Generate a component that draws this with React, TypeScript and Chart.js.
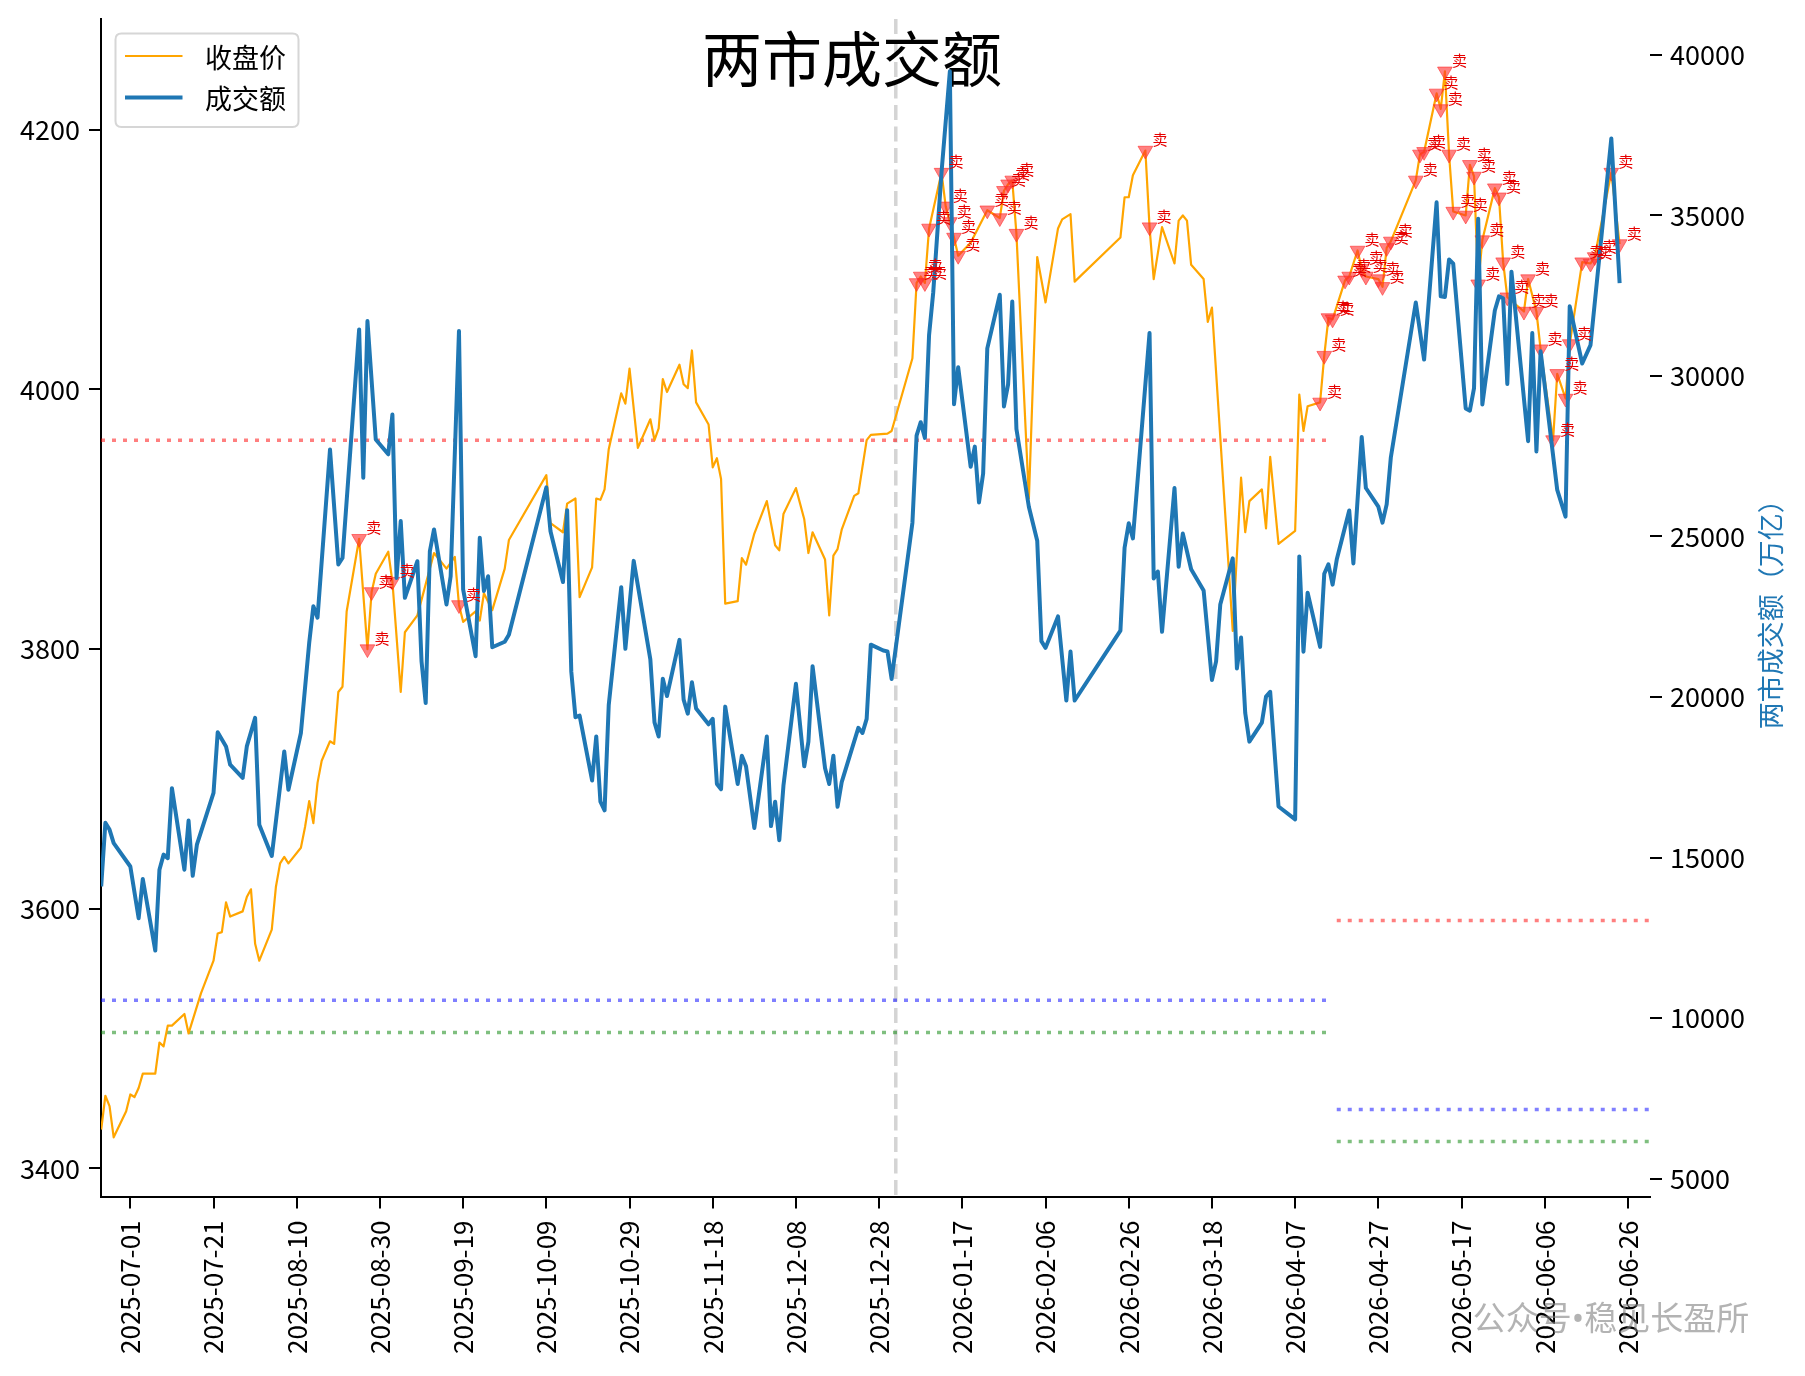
import React, { useEffect, useRef } from 'react';
import { Chart, registerables } from 'chart.js';

Chart.register(...registerables);

// ---------- data ----------
// x values are calendar-day offsets from BASE_DATE (2025-07-01)
const BASE_DATE = Date.UTC(2025, 6, 1);
const xTickDays = [0, 20, 40, 60, 80, 100, 120, 140, 160, 180, 200, 220, 240, 260, 280, 300, 320, 340, 360];
const leftTicks = [3400, 3600, 3800, 4000, 4200];
const rightTicks = [5000, 10000, 15000, 20000, 25000, 30000, 35000, 40000];

const priceDays = [
  -7, -6, -5, -4, -1, 0, 1, 2, 3, 6,
  7, 8, 9, 10, 13, 14, 17, 20, 21, 22,
  23, 24, 27, 28, 29, 30, 31, 34, 35, 36,
  37, 38, 41, 42, 43, 44, 45, 46, 48, 49,
  50, 51, 52, 55, 57, 58, 59, 62, 63, 65,
  66, 69, 73, 75, 76, 78, 79, 80, 83, 84,
  85, 87, 90, 91, 100, 101, 104, 105, 107, 108,
  111, 112, 113, 114, 115, 118, 119, 120, 122, 125,
  126, 127, 128, 129, 132, 133, 134, 135, 136, 139,
  140, 141, 142, 143, 146, 147, 148, 150, 153, 155,
  156, 157, 160, 162, 163, 164, 167, 168, 169, 170,
  171, 174, 175, 177, 178, 182, 183, 188, 189, 190,
  191, 192, 195, 196, 197, 198, 199, 202, 206, 209,
  210, 211, 212, 213, 216, 218, 220, 223, 224, 226,
  227, 238, 239, 240, 241, 244, 245, 246, 248, 251,
  252, 253, 254, 255, 258, 259, 260, 265, 267, 268,
  269, 272, 273, 274, 276, 280, 281, 282, 283, 286,
  287, 288, 289, 292, 293, 295, 296, 297, 300, 301,
  302, 303, 309, 310, 311, 314, 315, 316, 317, 318,
  321, 322, 323, 324, 325, 328, 329, 330, 331, 335,
  336, 338, 339, 342, 343, 345, 346, 349, 351, 352,
  356, 358,
];
const closePrices = [
  3430, 3456, 3448, 3424, 3444, 3457, 3455, 3462, 3473, 3473,
  3497, 3494, 3510, 3510, 3519, 3504, 3535, 3560, 3581, 3582,
  3605, 3594, 3598, 3609, 3615, 3573, 3560, 3584, 3617, 3635,
  3640, 3635, 3647, 3663, 3683, 3666, 3697, 3714, 3729, 3727,
  3767, 3771, 3829, 3885, 3800, 3844, 3858, 3875, 3852, 3767,
  3813, 3826, 3874, 3866, 3862, 3871, 3834, 3821, 3829, 3822,
  3843, 3830, 3862, 3884, 3934, 3897, 3890, 3912, 3916, 3840,
  3863, 3916, 3915, 3923, 3954, 3997, 3989, 4016, 3955, 3977,
  3961, 3970, 4008, 3998, 4019, 4004, 4001, 4030, 3990, 3973,
  3940, 3947, 3931, 3835, 3837, 3870, 3865, 3889, 3914, 3880,
  3876, 3904, 3924, 3900, 3874, 3890, 3869, 3826, 3872, 3877,
  3892, 3918, 3920, 3961, 3965, 3966, 3968, 4024, 4082, 4087,
  4082, 4124, 4167, 4141, 4129, 4117, 4103, 4113, 4138, 4132,
  4153, 4158, 4161, 4120, 3916, 4102, 4067, 4124, 4131, 4135,
  4083, 4117, 4148, 4148, 4165, 4184, 4125, 4085, 4125, 4097,
  4130, 4134, 4130, 4096, 4085, 4052, 4063, 3814, 3932, 3890,
  3914, 3923, 3893, 3948, 3881, 3891, 3996, 3968, 3987, 3990,
  4026, 4055, 4054, 4084, 4087, 4107, 4093, 4087, 4085, 4079,
  4109, 4114, 4161, 4181, 4183, 4228, 4216, 4245, 4181, 4137,
  4134, 4173, 4164, 4081, 4115, 4155, 4148, 4098, 4071, 4060,
  4085, 4060, 4031, 3961, 4012, 3993, 4035, 4098, 4097, 4102,
  4167, 4112,
];

const volumeDays = [
  -7, -6, -5, -4, 0, 2, 3, 6, 7, 8,
  9, 10, 13, 14, 15, 16, 20, 21, 23, 24,
  27, 28, 30, 31, 34, 37, 38, 41, 43, 44,
  45, 48, 50, 51, 55, 56, 57, 59, 62, 63,
  64, 65, 66, 69, 70, 71, 72, 73, 76, 77,
  79, 80, 83, 84, 85, 86, 87, 90, 91, 100,
  101, 104, 105, 106, 107, 108, 111, 112, 113, 114,
  115, 118, 119, 121, 125, 126, 127, 128, 129, 132,
  133, 134, 135, 136, 139, 140, 141, 142, 143, 146,
  147, 148, 150, 153, 154, 155, 156, 157, 160, 162,
  163, 164, 167, 168, 169, 170, 171, 175, 176, 177,
  178, 181, 182, 183, 188, 189, 190, 191, 192, 193,
  195, 197, 198, 199, 202, 203, 204, 205, 206, 209,
  210, 211, 212, 213, 216, 218, 219, 220, 223, 225,
  226, 227, 238, 239, 240, 241, 245, 246, 247, 248,
  251, 252, 253, 255, 258, 260, 261, 262, 265, 266,
  267, 268, 269, 272, 273, 274, 276, 280, 281, 282,
  283, 286, 287, 288, 289, 290, 293, 294, 296, 297,
  300, 301, 302, 303, 309, 311, 314, 315, 316, 317,
  318, 321, 322, 323, 324, 325, 328, 329, 330, 331,
  332, 336, 337, 338, 339, 343, 345, 346, 349, 351,
  356, 358,
];
const volumes = [
  14100, 16080, 15870, 15450, 14720, 13110, 14330, 12100, 14620, 15090,
  14980, 17160, 14620, 16150, 14430, 15400, 17010, 18900, 18460, 17890,
  17480, 18460, 19350, 16020, 15050, 18300, 17110, 18880, 21690, 22830,
  22470, 27710, 24130, 24330, 31450, 26830, 31710, 28020, 27560, 28800,
  23710, 25480, 23090, 24230, 21110, 19810, 24540, 25220, 22880, 23760,
  31400, 23350, 21270, 24960, 23300, 23760, 21550, 21720, 21940, 26530,
  25160, 23580, 25820, 20790, 19370, 19420, 17400, 18770, 16740, 16470,
  19750, 23420, 21500, 24240, 21170, 19210, 18770, 20570, 20030, 21780,
  19920, 19480, 20460, 19640, 19150, 19320, 17290, 17130, 19700, 17290,
  18170, 17840, 15920, 18770, 15980, 16740, 15540, 17240, 20410, 17840,
  18610, 20960, 17780, 17290, 18170, 16580, 17350, 19040, 18880, 19320,
  21630, 21450, 21420, 20560, 25430, 28140, 28560, 28070, 31270, 32600,
  36350, 39490, 29120, 30270, 27170, 27800, 26060, 26960, 30860, 32530,
  29050, 29740, 32320, 28350, 25920, 24870, 21740, 21530, 22510, 19890,
  21420, 19890, 22070, 24650, 25410, 24940, 31340, 23690, 23910, 22030,
  26510, 24060, 25090, 23980, 23320, 20530, 21110, 22880, 24320, 20890,
  21850, 19500, 18610, 19200, 20010, 20160, 16590, 16190, 24380, 21410,
  23250, 21560, 23840, 24130, 23500, 24280, 25810, 24160, 28100, 26510,
  25930, 25430, 26000, 27460, 32290, 30510, 35410, 32480, 32460, 33630,
  33500, 28990, 28920, 29620, 34900, 29110, 32040, 32480, 32420, 29750,
  33250, 27970, 31340, 27650, 30770, 26450, 25620, 32170, 30390, 30960,
  37400, 32890,
];

// days with a sell signal (marked on the close price line)
const sellDays = [
  55, 57, 58, 63, 79,
  189, 190, 191, 192, 195, 196, 197, 198, 199, 206, 209, 210, 211, 212, 213,
  244, 245,
  286, 287, 288, 289, 292, 293, 295, 296, 297, 300, 301, 302, 303,
  309, 310, 311, 314, 315, 316, 317, 318, 321, 322, 323, 324, 325,
  328, 329, 330, 331, 335, 336, 338, 339, 342, 343, 345, 346, 349, 351, 352, 356, 358,
];

// volume threshold lines (red / blue / green) for two periods
const period1Range = [-7.05, 288.5];
const period1Levels = [28000, 10550, 9550];
const period2Range = [290, 365.3];
const period2Levels = [13040, 7150, 6150];
const levelColors = ['rgba(255,0,0,0.5)', 'rgba(0,0,255,0.5)', 'rgba(0,128,0,0.5)'];

const newYearDay = 184; // 2026-01-01 divider
const titleText = '两市成交额';
const priceLabel = '收盘价';
const volumeLabel = '成交额';
const rightAxisTitle = '两市成交额（万亿）';
const sellText = '卖';
const watermarkText = '公众号•稳见长盈所';

// ---------- helpers ----------
const FONT = "'Noto Sans CJK SC', 'Noto Sans', sans-serif";
const fmtDate = (d: number) => new Date(BASE_DATE + d * 86400000).toISOString().slice(0, 10);
const noPad = (s: any) => { s.paddingTop = 0; s.paddingBottom = 0; s.paddingLeft = 0; s.paddingRight = 0; };

const overlayPlugin = {
  id: 'overlay',
  beforeDatasetsDraw(chart: any) {
    const { ctx, chartArea, scales } = chart;
    const x = scales.x.getPixelForValue(newYearDay);
    ctx.save();
    ctx.strokeStyle = 'rgba(170,170,170,0.5)';
    ctx.lineWidth = 3.5;
    ctx.setLineDash([15, 6.5]);
    ctx.beginPath();
    ctx.moveTo(x, chartArea.top);
    ctx.lineTo(x, chartArea.bottom);
    ctx.stroke();
    ctx.restore();

    ctx.save();
    ctx.font = `60px ${FONT}`;
    ctx.fillStyle = '#000';
    ctx.textAlign = 'center';
    ctx.textBaseline = 'middle';
    ctx.fillText(titleText, 852, 59);
    ctx.restore();
  },
  afterDatasetsDraw(chart: any) {
    const { ctx } = chart;
    const idx = chart.data.datasets.findIndex((d: any) => d.id === 'sell');
    const meta = chart.getDatasetMeta(idx);
    ctx.save();
    ctx.font = `15px ${FONT}`;
    ctx.fillStyle = '#e60000';
    ctx.textAlign = 'left';
    ctx.textBaseline = 'middle';
    meta.data.forEach((pt: any) => {
      ctx.fillText(sellText, pt.x + 7, pt.y - 11);
    });
    ctx.restore();
  },
  afterDraw(chart: any) {
    const { ctx, chartArea } = chart;
    // legend
    ctx.save();
    const bx = 115.5, by = 33.5, bw = 183, bh = 93.5, r = 6;
    ctx.beginPath();
    ctx.moveTo(bx + r, by);
    ctx.lineTo(bx + bw - r, by);
    ctx.quadraticCurveTo(bx + bw, by, bx + bw, by + r);
    ctx.lineTo(bx + bw, by + bh - r);
    ctx.quadraticCurveTo(bx + bw, by + bh, bx + bw - r, by + bh);
    ctx.lineTo(bx + r, by + bh);
    ctx.quadraticCurveTo(bx, by + bh, bx, by + bh - r);
    ctx.lineTo(bx, by + r);
    ctx.quadraticCurveTo(bx, by, bx + r, by);
    ctx.closePath();
    ctx.fillStyle = 'rgba(255,255,255,0.8)';
    ctx.fill();
    ctx.strokeStyle = '#d6d6d6';
    ctx.lineWidth = 2;
    ctx.stroke();
    ctx.lineCap = 'butt';
    ctx.strokeStyle = '#FFA500';
    ctx.lineWidth = 2.2;
    ctx.beginPath(); ctx.moveTo(125, 56); ctx.lineTo(182.5, 56); ctx.stroke();
    ctx.strokeStyle = '#1f77b4';
    ctx.lineWidth = 4;
    ctx.beginPath(); ctx.moveTo(125, 97.5); ctx.lineTo(182.5, 97.5); ctx.stroke();
    ctx.font = `27px ${FONT}`;
    ctx.fillStyle = '#000';
    ctx.textAlign = 'left';
    ctx.textBaseline = 'middle';
    ctx.fillText(priceLabel, 205, 58);
    ctx.fillText(volumeLabel, 205, 98.5);
    ctx.restore();

    // right axis title
    ctx.save();
    ctx.translate(1771, (chartArea.top + chartArea.bottom) / 2);
    ctx.rotate(-Math.PI / 2);
    ctx.font = `27px ${FONT}`;
    ctx.fillStyle = '#1f77b4';
    ctx.textAlign = 'center';
    ctx.textBaseline = 'middle';
    ctx.fillText(rightAxisTitle, 0, 0);
    ctx.restore();

    // watermark
    ctx.save();
    ctx.font = "33px 'Noto Sans', 'Noto Sans CJK SC', sans-serif";
    ctx.fillStyle = 'rgba(128,128,128,0.6)';
    ctx.textAlign = 'center';
    ctx.textBaseline = 'middle';
    ctx.fillText(watermarkText, 1611, 1321);
    ctx.restore();
  },
};

export default function App() {
  const ref = useRef<HTMLCanvasElement>(null);

  useEffect(() => {
    document.body.style.margin = '0';
    const canvas = ref.current;
    if (!canvas) return;
    Chart.defaults.font.family = FONT;
    Chart.defaults.font.size = 27;
    Chart.defaults.color = '#000';

    const priceAt = (d: number) => closePrices[priceDays.indexOf(d)];

    const levelDatasets: any[] = [];
    [[period1Range, period1Levels], [period2Range, period2Levels]].forEach(([range, levels]: any) => {
      levels.forEach((lv: number, i: number) => {
        levelDatasets.push({
          type: 'line',
          data: [{ x: range[0], y: lv }, { x: range[1], y: lv }],
          borderColor: levelColors[i],
          borderWidth: 3.5,
          borderDash: [4, 7],
          borderCapStyle: 'butt',
          pointRadius: 0,
          yAxisID: 'y1',
          order: 5,
        });
      });
    });

    const chart = new Chart(canvas, {
      type: 'line',
      data: {
        datasets: [
          {
            label: volumeLabel,
            data: volumeDays.map((d, i) => ({ x: d, y: volumes[i] })),
            borderColor: '#1f77b4',
            borderWidth: 4,
            borderJoinStyle: 'round',
            pointRadius: 0,
            yAxisID: 'y1',
            order: 0,
          } as any,
          {
            id: 'sell',
            label: 'sell',
            data: sellDays.map((d) => ({ x: d, y: priceAt(d) })),
            showLine: false,
            pointStyle: 'triangle',
            pointRotation: 180,
            pointRadius: 8.5,
            pointBackgroundColor: 'rgba(255,45,45,0.6)',
            pointBorderColor: 'rgba(255,45,45,0.6)',
            pointBorderWidth: 1,
            yAxisID: 'y',
            order: 1,
          } as any,
          {
            label: priceLabel,
            data: priceDays.map((d, i) => ({ x: d, y: closePrices[i] })),
            borderColor: '#FFA500',
            borderWidth: 2.2,
            borderJoinStyle: 'round',
            pointRadius: 0,
            yAxisID: 'y',
            order: 2,
          } as any,
          ...levelDatasets,
        ],
      },
      options: {
        animation: false,
        responsive: false,
        maintainAspectRatio: false,
        events: [],
        layout: { padding: { top: 19, left: 0, right: 0, bottom: 0 } },
        plugins: { legend: { display: false }, tooltip: { enabled: false }, title: { display: false } },
        scales: {
          x: {
            type: 'linear',
            min: -7.05,
            max: 365.3,
            afterBuildTicks: (s: any) => { s.ticks = xTickDays.map((v) => ({ value: v })); },
            afterFit: (s: any) => { s.height = 1376 - 1196.5; noPad(s); },
            ticks: {
              autoSkip: false,
              minRotation: 90,
              maxRotation: 90,
              padding: 12,
              color: '#000',
              font: { size: 26 },
              callback: (v: any) => fmtDate(Number(v)),
            },
            grid: { drawOnChartArea: false, drawTicks: true, tickLength: 12, color: '#000', lineWidth: 2 },
            border: { display: true, color: '#000', width: 2 },
          },
          y: {
            type: 'linear',
            position: 'left',
            min: 3378.4,
            max: 4285.3,
            afterBuildTicks: (s: any) => { s.ticks = leftTicks.map((v) => ({ value: v })); },
            afterFit: (s: any) => { s.width = 101; noPad(s); },
            ticks: { padding: 9, color: '#000', font: { size: 27 }, callback: (v: any) => String(v) },
            grid: { drawOnChartArea: false, drawTicks: true, tickLength: 12, color: '#000', lineWidth: 2 },
            border: { display: true, color: '#000', width: 2 },
          },
          y1: {
            type: 'linear',
            position: 'right',
            min: 4440,
            max: 41120,
            afterBuildTicks: (s: any) => { s.ticks = rightTicks.map((v) => ({ value: v })); },
            afterFit: (s: any) => { s.width = 1805 - 1650; noPad(s); },
            ticks: { padding: 8, color: '#000', font: { size: 27 }, callback: (v: any) => String(v) },
            grid: { drawOnChartArea: false, drawTicks: true, tickLength: 12, color: '#000', lineWidth: 2 },
            border: { display: false },
          },
        },
      } as any,
      plugins: [overlayPlugin],
    });
    return () => chart.destroy();
  }, []);

  return (
    <div style={{ position: 'absolute', left: 0, top: 0, width: 1805, height: 1376, background: '#fff' }}>
      <canvas ref={ref} width={1805} height={1376} style={{ width: 1805, height: 1376, display: 'block' }} />
    </div>
  );
}
